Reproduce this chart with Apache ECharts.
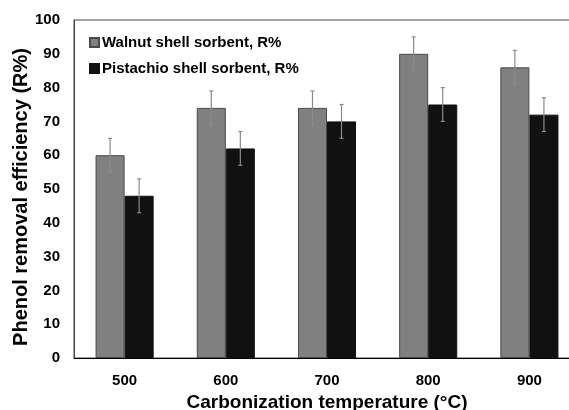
<!DOCTYPE html>
<html>
<head>
<meta charset="utf-8">
<script src="https://cdn.jsdelivr.net/npm/echarts@6/dist/echarts.min.js"></script>
<style>
  html, body { margin: 0; padding: 0; background: #fff; }
  #chart { width: 569px; height: 410px; }
</style>
</head>
<body>
<div id="chart"></div>
<script>
// Carbonization temperatures (°C)
const categories = ['500', '600', '700', '800', '900'];
// Phenol removal efficiency R% per sorbent
const walnut = [60, 74, 74, 90, 86];
const pistachio = [48, 62, 70, 75, 72];
// Error bar half-widths (R%)
const walnutErr = [5, 5, 5, 5, 5];
const pistachioErr = [5, 5, 5, 5, 5];
const yTicks = [0, 10, 20, 30, 40, 50, 60, 70, 80, 90, 100];

const CAT_GAP = 0.426;
const FONT = 'Liberation Sans, Arial, sans-serif';

function errorSeries(values, errs, side) {
  return {
    type: 'custom',
    z: 10,
    silent: true,
    data: values.map((v, i) => [i, v, errs[i]]),
    renderItem: function (params, api) {
      const i = api.value(0);
      const v = api.value(1);
      const e = api.value(2);
      const band = api.size([1, 0])[0];
      const barW = band * (1 - CAT_GAP) / 2;
      const base = api.coord([i, v]);
      const x = base[0] + side * barW / 2;
      const yTop = api.coord([i, v + e])[1];
      const yBot = api.coord([i, v - e])[1];
      const cap = 2;
      const style = { stroke: '#8a8a8a', lineWidth: 1.2 };
      return {
        type: 'group',
        children: [
          { type: 'line', shape: { x1: x, y1: yTop, x2: x, y2: yBot }, style },
          { type: 'line', shape: { x1: x - cap, y1: yTop, x2: x + cap, y2: yTop }, style },
          { type: 'line', shape: { x1: x - cap, y1: yBot, x2: x + cap, y2: yBot }, style }
        ]
      };
    }
  };
}

const chart = echarts.init(document.getElementById('chart'));
chart.setOption({
  animation: false,
  backgroundColor: '#fff',
  grid: {
    left: 74, top: 20, width: 506, height: 338,
    outerBoundsMode: 'none',
    containLabel: false,
    show: true, borderColor: '#444', borderWidth: 1
  },
  legend: {
    orient: 'vertical',
    left: 84, top: 30,
    itemWidth: 9, itemHeight: 9, itemGap: 11,
    icon: 'rect',
    textStyle: { fontFamily: FONT, fontWeight: 'bold', fontSize: 15, color: '#000', padding: [0, 0, 0, -2] },
    data: ['Walnut shell sorbent, R%', 'Pistachio shell sorbent, R%']
  },
  xAxis: {
    type: 'category',
    data: categories,
    name: 'Carbonization temperature (°C)',
    nameLocation: 'middle',
    nameGap: 35,
    nameTextStyle: { fontFamily: FONT, fontWeight: 'bold', fontSize: 19, color: '#000' },
    axisLine: { lineStyle: { color: '#000', width: 1 } },
    axisTick: { show: false },
    axisLabel: { fontFamily: FONT, fontWeight: 'bold', fontSize: 15, color: '#000', margin: 15 }
  },
  yAxis: {
    type: 'value',
    min: yTicks[0], max: yTicks[yTicks.length - 1], interval: 10,
    name: 'Phenol removal efficiency (R%)',
    nameLocation: 'middle',
    nameGap: 43,
    nameMoveOverlap: false,
    nameTextStyle: { fontFamily: FONT, fontWeight: 'bold', fontSize: 20, color: '#000', padding: [0, 16, 0, 0] },
    axisLine: { show: true, lineStyle: { color: '#444' } },
    axisTick: { show: false },
    splitLine: { show: false },
    axisLabel: { fontFamily: FONT, fontWeight: 'bold', fontSize: 15, color: '#000', margin: 14 }
  },
  series: [
    {
      name: 'Walnut shell sorbent, R%',
      type: 'bar',
      data: walnut,
      barGap: '0%',
      barCategoryGap: (CAT_GAP * 100) + '%',
      itemStyle: { color: '#808080', borderColor: '#4a4a4a', borderWidth: 1 }
    },
    {
      name: 'Pistachio shell sorbent, R%',
      type: 'bar',
      data: pistachio,
      barGap: '0%',
      barCategoryGap: (CAT_GAP * 100) + '%',
      itemStyle: { color: '#111111', borderColor: '#111111', borderWidth: 1 }
    },
    errorSeries(walnut, walnutErr, -1),
    errorSeries(pistachio, pistachioErr, 1)
  ]
});
</script>
</body>
</html>
